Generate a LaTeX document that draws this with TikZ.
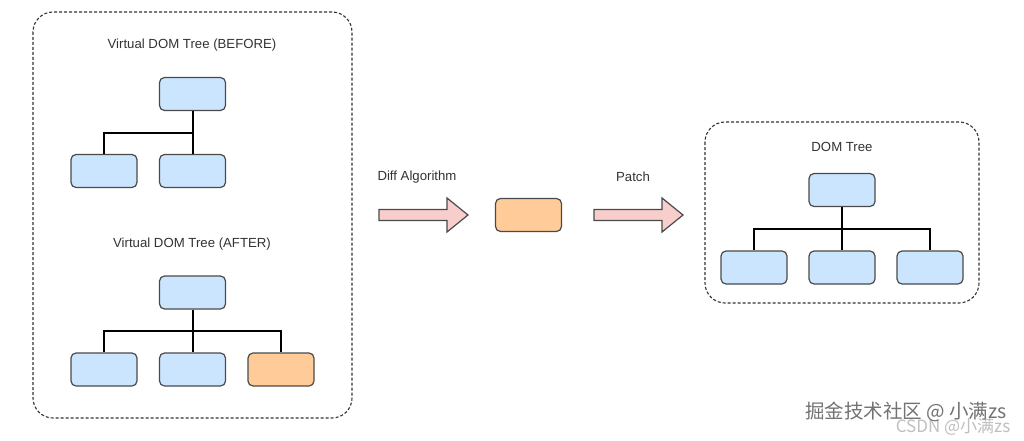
\documentclass[tikz,border=0pt]{standalone}
\usepackage{fontspec}
\setmainfont{Liberation Sans}
\newfontfamily\cjk{Noto Sans CJK SC}
\definecolor{vblue}{HTML}{CCE5FF}
\definecolor{vorange}{HTML}{FFCC99}
\definecolor{vpink}{HTML}{F8CECC}
\definecolor{vstroke}{HTML}{4A4A4A}
\tikzset{
  x=1pt,y=-1pt,
  frame/.style={draw=black!80,dashed,dash pattern=on 3pt off 2pt,line width=1.1pt,rounded corners=20pt},
  vbox/.style={draw=vstroke,line width=1.2pt,rounded corners=5pt,fill=vblue,minimum width=66pt,minimum height=33pt,inner sep=0pt},
  obox/.style={vbox,fill=vorange},
  conn/.style={draw=black,line width=2pt},
  ttl/.style={font=\fontsize{13.2}{15}\selectfont,text=black!80},
  fat/.style={draw=vstroke,line width=1.2pt,fill=vpink,line join=miter},
}
\begin{document}
\begin{tikzpicture}
\useasboundingbox (0,0) rectangle (1024,441);
\fill[white] (0,0) rectangle (1024,441);
% left frame
\draw[frame] (33,12) rectangle (352,418);
\node[ttl] (tb) at (192,45) {Virtual DOM Tree (BEFORE)};
\node[vbox] (b0) at (192.5,94) {};
\node[vbox] (b1) at (104,171) {};
\node[vbox] (b2) at (192.5,171) {};
\coordinate (bj) at (192.5,133);
\draw[conn] (b0.south) -- (b2.north);
\draw[conn] (bj) -| (b1.north);

\node[ttl] (ta) at (192,244) {Virtual DOM Tree (AFTER)};
\node[vbox] (a0) at (192.5,292.5) {};
\node[vbox] (a1) at (104,369.5) {};
\node[vbox] (a2) at (192.5,369.5) {};
\node[obox] (a3) at (281,369.5) {};
\coordinate (aj) at (192.5,331);
\draw[conn] (a0.south) -- (a2.north);
\draw[conn] (a1.north) |- (aj) -| (a3.north);

% middle
\node[ttl] (td) at (417,177) {Diff Algorithm};
\draw[fat] (379,209.5) -- (447,209.5) -- (447,198) -- (468,215) -- (447,232) -- (447,220.5) -- (379,220.5) -- cycle;
\node[obox] (m) at (528.5,215) {};
\node[ttl] (tp) at (633,177) {Patch};
\draw[fat] (594,209.5) -- (662,209.5) -- (662,198) -- (683,215) -- (662,232) -- (662,220.5) -- (594,220.5) -- cycle;

% right frame
\draw[frame] (705,122) rectangle (979,303);
\node[ttl] (tr) at (842,147) {DOM Tree};
\node[vbox] (r0) at (842,190) {};
\node[vbox] (r1) at (754,267.5) {};
\node[vbox] (r2) at (842,267.5) {};
\node[vbox] (r3) at (930,267.5) {};
\coordinate (rj) at (842,229);
\draw[conn] (r0.south) -- (r2.north);
\draw[conn] (r1.north) |- (rj) -| (r3.north);

% watermarks
\node[text=black!25,font=\cjk\fontsize{17}{19}\selectfont] (w2) at (953,427) {CSDN @小满zs};
\node[text=black!55,font=\cjk\fontsize{19.5}{21}\selectfont] (w1) at (906,412) {掘金技术社区 @ 小满zs};
\end{tikzpicture}
\end{document}
